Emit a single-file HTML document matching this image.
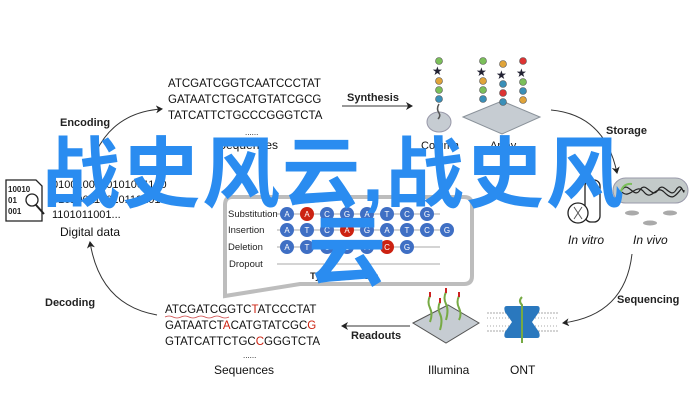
<!DOCTYPE html>
<html><head><meta charset="utf-8"><style>
html,body{margin:0;padding:0;background:#fff;}
svg{display:block;}
text{font-family:"Liberation Sans",Arial,sans-serif;}
.b{font-weight:bold;font-size:11px;fill:#222;}
.seq{font-size:11.5px;fill:#111;}
.cap{font-size:12px;fill:#111;}
.wm{font-family:"Liberation Sans","Noto Sans CJK SC",sans-serif;font-size:78px;font-weight:bold;fill:#2a8cf0;}
</style></head><body>
<svg width="700" height="401" viewBox="0 0 700 401" xmlns="http://www.w3.org/2000/svg">
<defs>
<marker id="ar" markerWidth="8" markerHeight="8" refX="6" refY="4" orient="auto" markerUnits="userSpaceOnUse">
<path d="M0,0 L7,4 L0,8 L2,4 Z" fill="#222"/></marker>
</defs>

<!-- top sequences -->
<text class="seq" x="168" y="87">ATCGATCGGTCAATCCCTAT</text>
<text class="seq" x="168" y="103">GATAATCTGCATGTATCGCG</text>
<text class="seq" x="168" y="119">TATCATTCTGCCCGGGTCTA</text>
<text class="seq" x="245" y="135" style="font-size:8px">......</text>
<text class="cap" x="218" y="149">Sequences</text>

<text class="b" x="60" y="126">Encoding</text>
<path d="M96,152 Q115,112 162,109" fill="none" stroke="#333" stroke-width="1" marker-end="url(#ar)"/>

<text class="b" x="347" y="101">Synthesis</text>
<line x1="342" y1="106" x2="412" y2="106" stroke="#333" stroke-width="1" marker-end="url(#ar)"/>

<!-- column -->
<ellipse cx="439" cy="122" rx="12" ry="10" fill="#c6ccd2" stroke="#99a" stroke-width="1"/>
<path d="M439,104 q-3,5 0,9 q2,3 -1,6" stroke="#555" fill="none" stroke-width="1.5"/>
<g stroke="#555" stroke-width="0.6">
<circle cx="439" cy="61" r="3.5" fill="#7bbf5a"/>
<circle cx="439" cy="81" r="3.5" fill="#e0a43a"/>
<circle cx="439" cy="90" r="3.5" fill="#7bbf5a"/>
<circle cx="439" cy="99" r="3.5" fill="#3a8fb8"/>
</g>
<text x="432" y="75" font-size="12" fill="#223">★</text>
<text class="cap" x="421" y="149" style="font-size:11px">Column</text>

<!-- array -->
<polygon points="463,117 502,101 540,117 502,134" fill="#c6ccd2" stroke="#8a929a" stroke-width="1"/>
<g stroke="#555" stroke-width="0.6">
<circle cx="483" cy="61" r="3.5" fill="#7bbf5a"/>
<circle cx="483" cy="81" r="3.5" fill="#e0a43a"/>
<circle cx="483" cy="90" r="3.5" fill="#7bbf5a"/>
<circle cx="483" cy="99" r="3.5" fill="#3a8fb8"/>
<circle cx="503" cy="64" r="3.5" fill="#e0a43a"/>
<circle cx="503" cy="84" r="3.5" fill="#3a8fb8"/>
<circle cx="503" cy="93" r="3.5" fill="#d33"/>
<circle cx="503" cy="102" r="3.5" fill="#3a8fb8"/>
<circle cx="523" cy="61" r="3.5" fill="#d33"/>
<circle cx="523" cy="82" r="3.5" fill="#7bbf5a"/>
<circle cx="523" cy="91" r="3.5" fill="#3a8fb8"/>
<circle cx="523" cy="100" r="3.5" fill="#e0a43a"/>
</g>
<text x="476" y="76" font-size="12" fill="#223">★</text>
<text x="496" y="79" font-size="12" fill="#223">★</text>
<text x="516" y="77" font-size="12" fill="#223">★</text>
<text class="cap" x="490" y="149" style="font-size:11px">Array</text>

<text class="b" x="606" y="134">Storage</text>
<path d="M551,110 Q605,115 617,173" fill="none" stroke="#333" stroke-width="1" marker-end="url(#ar)"/>

<!-- cell -->
<rect x="613" y="178" width="75" height="25" rx="12.5" fill="#c3cac9" stroke="#99a" stroke-width="1"/>
<path d="M622,190 c6,-10 12,10 18,0 s12,10 18,0 s12,10 18,0 s8,8 8,0 M622,192 c8,8 14,-10 22,0 s12,-8 20,0 s10,6 18,-4" fill="none" stroke="#222" stroke-width="1.2"/>
<path d="M620,195 q2,-12 12,-11" fill="none" stroke="#7bbf5a" stroke-width="2"/>
<ellipse cx="632" cy="213" rx="7" ry="2.5" fill="#aaa"/>
<ellipse cx="670" cy="213" rx="7" ry="2.5" fill="#aaa"/>
<ellipse cx="650" cy="223" rx="7" ry="2.5" fill="#aaa"/>
<!-- in vitro -->
<rect x="585" y="180" width="15" height="42" rx="6" fill="#fff" stroke="#222" stroke-width="1.3"/>
<circle cx="578" cy="213" r="10" fill="#fff" stroke="#222" stroke-width="1.3"/>
<path d="M574,207 l8,12 M582,207 l-8,12" stroke="#555" stroke-width="1"/>
<text x="568" y="244" font-size="12" font-style="italic" fill="#111">In vitro</text>
<text x="633" y="244" font-size="12" font-style="italic" fill="#111">In vivo</text>

<!-- digital data -->
<path d="M6,180 h30 l6,6 v35 h-36 Z" fill="#fff" stroke="#222" stroke-width="1.3"/>
<text x="8" y="192" font-size="8" font-weight="bold" fill="#222">10010</text>
<text x="8" y="203" font-size="8" font-weight="bold" fill="#222">01</text>
<text x="8" y="214" font-size="8" font-weight="bold" fill="#222">001</text>
<circle cx="32" cy="200" r="6" fill="#fff" stroke="#222" stroke-width="1.3"/>
<line x1="36" y1="205" x2="44" y2="214" stroke="#222" stroke-width="2"/>
<text x="52" y="188" font-size="11" fill="#111">0100100110101001100</text>
<text x="52" y="203" font-size="11" fill="#111">0101001100101101010</text>
<text x="52" y="218" font-size="11" fill="#111">1101011001...</text>
<text class="cap" x="60" y="236">Digital data</text>

<text class="b" x="45" y="306">Decoding</text>
<path d="M157,315 Q100,305 90,242" fill="none" stroke="#333" stroke-width="1" marker-end="url(#ar)"/>

<!-- error box -->
<path d="M232,197 H464 q8,0 8,8 V276 q0,8 -8,8 H300 L225,296 V205 q0,-8 7,-8 Z" fill="#fff" stroke="#bdbdbd" stroke-width="4"/>
<g font-size="9.5" fill="#222">
<text x="228" y="217">Substitution</text>
<text x="228" y="233">Insertion</text>
<text x="228" y="250">Deletion</text>
<text x="229" y="267">Dropout</text>
<text x="310" y="279" font-weight="bold">Types of errors</text>
</g>
<g stroke="#aaa" stroke-width="1">
<line x1="277" y1="214" x2="440" y2="214"/>
<line x1="277" y1="230" x2="450" y2="230"/>
<line x1="277" y1="247" x2="440" y2="247"/>
<line x1="277" y1="264" x2="440" y2="264"/>
</g>
<g font-size="8" fill="#fff" text-anchor="middle">
<g>
<circle cx="287" cy="214" r="7" fill="#3f6fc4"/><text x="287" y="217">A</text>
<circle cx="307" cy="214" r="7" fill="#c21"/><text x="307" y="217">A</text>
<circle cx="327" cy="214" r="7" fill="#3f6fc4"/><text x="327" y="217">C</text>
<circle cx="347" cy="214" r="7" fill="#3f6fc4"/><text x="347" y="217">G</text>
<circle cx="367" cy="214" r="7" fill="#3f6fc4"/><text x="367" y="217">A</text>
<circle cx="387" cy="214" r="7" fill="#3f6fc4"/><text x="387" y="217">T</text>
<circle cx="407" cy="214" r="7" fill="#3f6fc4"/><text x="407" y="217">C</text>
<circle cx="427" cy="214" r="7" fill="#3f6fc4"/><text x="427" y="217">G</text>
</g>
<g>
<circle cx="287" cy="230" r="7" fill="#3f6fc4"/><text x="287" y="233">A</text>
<circle cx="307" cy="230" r="7" fill="#3f6fc4"/><text x="307" y="233">T</text>
<circle cx="327" cy="230" r="7" fill="#3f6fc4"/><text x="327" y="233">C</text>
<circle cx="347" cy="230" r="7" fill="#c21"/><text x="347" y="233">A</text>
<circle cx="367" cy="230" r="7" fill="#3f6fc4"/><text x="367" y="233">G</text>
<circle cx="387" cy="230" r="7" fill="#3f6fc4"/><text x="387" y="233">A</text>
<circle cx="407" cy="230" r="7" fill="#3f6fc4"/><text x="407" y="233">T</text>
<circle cx="427" cy="230" r="7" fill="#3f6fc4"/><text x="427" y="233">C</text>
<circle cx="447" cy="230" r="7" fill="#3f6fc4"/><text x="447" y="233">G</text>
</g>
<g>
<circle cx="287" cy="247" r="7" fill="#3f6fc4"/><text x="287" y="250">A</text>
<circle cx="307" cy="247" r="7" fill="#3f6fc4"/><text x="307" y="250">T</text>
<circle cx="327" cy="247" r="7" fill="#3f6fc4"/><text x="327" y="250">C</text>
<circle cx="347" cy="247" r="7" fill="#3f6fc4"/><text x="347" y="250">G</text>
<circle cx="367" cy="247" r="7" fill="#3f6fc4"/><text x="367" y="250">A</text>
<circle cx="387" cy="247" r="7" fill="#c21"/><text x="387" y="250">C</text>
<circle cx="407" cy="247" r="7" fill="#3f6fc4"/><text x="407" y="250">G</text>
</g>
</g>

<!-- bottom sequences -->
<text class="seq" x="165" y="313">ATCGATCGGTC<tspan fill="#c21">T</tspan>ATCCCTAT</text>
<path d="M165,317 q4,-2 8,0 t8,0 t8,0 t8,0 t8,0 t8,0 t8,0 t8,0" fill="none" stroke="#c44" stroke-width="0.8"/>
<text class="seq" x="165" y="329">GATAATCT<tspan fill="#c21">A</tspan>CATGTATCGC<tspan fill="#c21">G</tspan></text>
<text class="seq" x="165" y="345">GTATCATTCTGC<tspan fill="#c21">C</tspan>GGGTCTA</text>
<text class="seq" x="243" y="358" style="font-size:8px">......</text>
<text class="cap" x="214" y="374">Sequences</text>

<text class="b" x="351" y="339">Readouts</text>
<line x1="410" y1="326" x2="342" y2="326" stroke="#333" stroke-width="1" marker-end="url(#ar)"/>

<!-- illumina -->
<polygon points="413,323 448,305 479,323 446,343" fill="#c6ccd2" stroke="#555" stroke-width="1"/>
<g fill="none" stroke-width="2">
<path d="M430,296 q-3,6 0,12 t0,14" stroke="#7a4"/>
<path d="M446,292 q-3,6 0,12 t0,16" stroke="#7a4"/>
<path d="M459,296 q-3,6 0,12 t0,12" stroke="#7a4"/>
<path d="M440,302 q-3,6 0,12 t0,16" stroke="#7a4"/>
<path d="M430,292 l0,5 M446,288 l0,5 M459,292 l0,5 M440,298 l0,5" stroke="#c22"/>
</g>
<text class="cap" x="428" y="374">Illumina</text>

<!-- ONT -->
<rect x="487" y="310" width="71" height="24" fill="#fff"/>
<g stroke="#aaa" stroke-width="1">
<line x1="487" y1="313" x2="558" y2="313" stroke-dasharray="2 1"/>
<line x1="487" y1="331" x2="558" y2="331" stroke-dasharray="2 1"/>
<line x1="487" y1="318" x2="558" y2="318" stroke-dasharray="1 2"/>
<line x1="487" y1="326" x2="558" y2="326" stroke-dasharray="1 2"/>
</g>
<path d="M507,306 h30 q4,0 2,6 l-7,10 l7,10 q2,6 -2,6 h-30 q-4,0 -2,-6 l7,-10 l-7,-10 q-2,-6 2,-6 Z" fill="#2a78be"/>
<path d="M522,297 q-4,4 0,8 v38" stroke="#7a4" stroke-width="2" fill="none"/>
<text class="cap" x="510" y="374">ONT</text>

<text class="b" x="617" y="303">Sequencing</text>
<path d="M632,254 Q625,315 563,323" fill="none" stroke="#333" stroke-width="1" marker-end="url(#ar)"/>

<!-- watermark -->
<text class="wm" x="42" y="201" letter-spacing="2">战史风云,战史风</text>
<text class="wm" x="308" y="279">云</text>
</svg>
</body></html>
